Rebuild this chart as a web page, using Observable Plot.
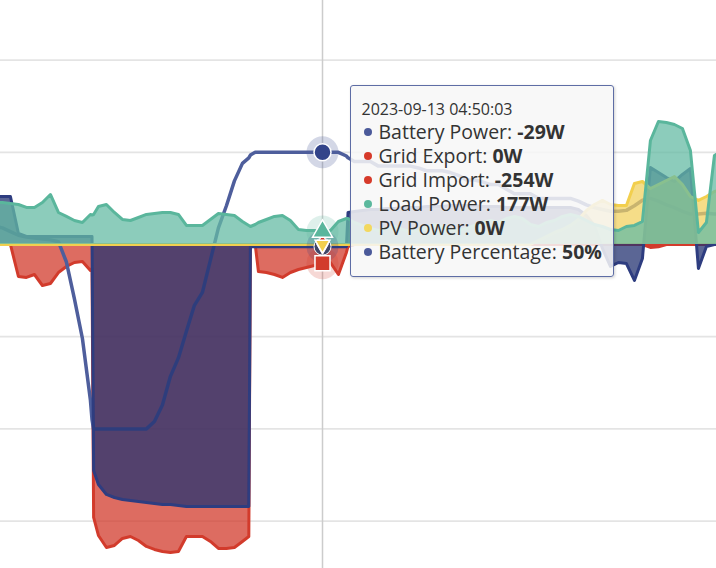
<!DOCTYPE html>
<html>
<head>
<meta charset="utf-8">
<script src="https://cdn.jsdelivr.net/npm/d3@7"></script>
<script src="https://cdn.jsdelivr.net/npm/@observablehq/plot@0.6"></script>
<style>
html, body { margin: 0; padding: 0; background: #fff; overflow: hidden; }
#wrap { position: relative; width: 716px; height: 568px; }
#wrap svg { display: block; }
#tip { position: absolute; left: 349.5px; top: 84.5px; width: 262px; height: 190px;
  background: rgba(247,247,247,0.86); border: 1.5px solid #5e6da5; border-radius: 3px;
  box-shadow: 1px 1px 3px rgba(0,0,0,0.18); font-family: "Open Sans", sans-serif; color: #333; }
#tip .ln { position: absolute; white-space: nowrap; line-height: 24px; }
#tip .dot { display: inline-block; width: 8px; height: 8px; border-radius: 50%; margin-right: 7px; vertical-align: 3px; }
#tip b { font-weight: 700; }
</style>
</head>
<body>
<div id="wrap"></div>
<script>
// ---- data (time of day, 2023-09-13) ----
const times = [
  "01:25","01:30","01:35","01:40","01:45","01:50","01:55","02:00","02:05","02:10","02:15","02:20","02:25",
  "02:26","02:27",
  "02:30","02:35","02:40","02:45","02:50","02:55","03:00","03:05","03:10","03:15","03:20","03:25","03:30","03:35","03:40","03:45","03:50","03:55","04:00",
  "04:04","04:05","04:08",
  "04:10","04:15","04:20","04:25","04:30","04:35","04:40","04:45",
  "04:50:03",
  "04:55","05:00","05:05","05:06",
  "05:10","05:15","05:20","05:25","05:30","05:35","05:40","05:45","05:50","05:55","06:00","06:05","06:10","06:15","06:20","06:25","06:30","06:35","06:40","06:45","06:50","06:55","07:00",
  "07:05","07:10","07:15","07:20","07:25","07:30","07:35","07:40","07:45","07:50","07:55","08:00","08:05","08:10",
  "08:15","08:20","08:25","08:30","08:35","08:40","08:45","08:50","08:55","09:00"
];

const batteryPower = [
  651, 651, 651, 149, 108, 108, 108, 108, 108, 108, 108, 108, 108,
  108, -3064,
  -3254, -3389, -3430, -3457, -3471, -3484, -3498, -3511, -3525, -3525, -3538, -3552, -3552, -3552, -3552, -3552, -3552, -3552, -3552,
  -3552, -30, -30,
  -30, -31, -29, -30, -31, -30, -29, -30,
  -29,
  -30, -31, -30, 434,
  447, 461, 475, 475, 488, 488, 502, 502, 502, 515, 515, 515, 529, 529, 529, 529, 515, 515, 515, 502, 502, 502, 502,
  502, 502, 502, 502, 502, 475, 393, 258, -54, -298, -244, -258, -488, -190,
  1044, 976, 908, 854, 949, 1030, -325, -27, 0, 0
];

const gridExport = [
  0, 0, 0, 0, 0, 0, 0, 0, 0, 0, 0, 0, 0,
  0, 0,
  0, 0, 0, 0, 0, 0, 0, 0, 0, 0, 0, 0, 0, 0, 0, 0, 0, 0, 0,
  0, 0, 0,
  0, 0, 0, 0, 0, 0, 0, 0,
  0,
  0, 0, 0, 0,
  0, 0, 0, 0, 0, 0, 0, 0, 0, 0, 0, 0, 0, 0, 0, 0, 0, 0, 0, 0, 0, 0, 0,
  0, 0, 0, 0, 0, 0, 0, 0, 0, 0, 0, 0, 0, 0,
  0, 0, 0, 0, 0, 0, 0, 0, 0, 0
];

const gridImport = [
  0, 0, 0, -434, -447, -407, -556, -529, -380, -298, -244, -230, -352,
  -325, -3701,
  -3945, -4108, -4081, -3986, -3959, -4013, -4094, -4135, -4162, -4176, -4162, -3959, -3959, -3959, -4026, -4121, -4121, -4108, -4026,
  -3959, 0, 0,
  -366, -380, -407, -447, -380, -339, -312, -285,
  -254,
  -244, -407, -108, -27,
  0, 0, 0, 0, 0, 0, 0, 0, 0, 0, 0, 0, 0, 0, 0, 0, 0, 0, 0, 0, 0, 0, 0,
  0, 0, 0, 0, 0, 0, 0, 0, 0, 0, 0, 0, 0, 0,
  -40, -30, 0, 0, 0, 0, 0, 0, 0, 0
];

const loadPower = [
  569, 569, 556, 542, 502, 502, 569, 678, 434, 380, 325, 298, 407,
  400, 407,
  515, 542, 434, 339, 325, 366, 407, 420, 434, 434, 407, 258, 258, 258, 339, 420, 407, 393, 312,
  258, 244, 271,
  298, 339, 380, 393, 325, 203, 190, 190,
  177,
  190, 312, 352, 352,
  298, 258, 217, 190, 217, 244, 203, 176, 190, 230, 271, 244, 203, 190, 217, 258, 298, 325, 298, 352, 380, 352, 271,
  244, 298, 325, 380, 407, 380, 325, 271, 244, 203, 190, 244, 258, 312,
  1410, 1667, 1654, 1627, 1573, 1274, 163, 298, 1207, 1274
];

const pvPower = [
  0, 0, 0, 0, 0, 0, 0, 0, 0, 0, 0, 0, 0,
  0, 0,
  0, 0, 0, 0, 0, 0, 0, 0, 0, 0, 0, 0, 0, 0, 0, 0, 0, 0, 0,
  0, 0, 0,
  0, 0, 0, 0, 0, 0, 0, 0,
  0,
  0, 0, 0, 0,
  0, 0, 0, 0, 0, 0, 0, 0, 0, 0, 0, 0, 0, 0, 0, 0, 0, 0, 0, 0, 0, 0, 0,
  54, 108, 163, 203, 258, 339, 461, 542, 597, 542, 529, 529, 827, 854,
  759, 813, 868, 922, 813, 651, 597, 651, 719, 746
];

const batteryPct = [
  42.0, 41.8, 41.4, 41.0, 40.8, 40.7, 40.6, 40.5, 40.3, 38.1, 34.1, 29.8, 23.1,
  21.0, 20.0,
  20, 20, 20, 20, 20, 20, 20, 20.8, 22.6, 25.7, 27.7, 30.6, 33.4, 34.8, 38.3, 41.8, 44.2, 46.9, 48.8,
  49.4, 49.7, 50,
  50, 50, 50, 50, 50, 50, 50, 50,
  50,
  50, 50, 49.6, 49.4,
  49, 49, 49, 48.5, 48.5, 48.5, 48.5, 48.5, 48.3, 48, 48, 48, 47.8, 47.5, 47, 47, 46.8, 46.5, 46.5, 46, 45.5, 45.5, 45.5,
  45, 45, 45, 45, 45, 44.7, 44.3, 44, 43.8, 43.6, 43.6, 43.7, 44.2, 44.8,
  45, 44.7, 44.3, 44, 43.6, 43.3, 43.3, 43.4, 43.3, 43.3
];

const gridTicks = [-3750, -2500, -1250, 0, 1250, 2500];   // power axis (W)
const pctAxisAtZero = 40, pctPerTick = 10, wattsPerTick = 1250; // right (%) axis aligned to power ticks
const hoverTime = "04:50:03";
const seriesInfo = [
  {key: "batteryPower", label: "Battery Power", unit: "W", color: "#4b5a9a"},
  {key: "gridExport", label: "Grid Export", unit: "W", color: "#d63a2a"},
  {key: "gridImport", label: "Grid Import", unit: "W", color: "#d63a2a"},
  {key: "load", label: "Load Power", unit: "W", color: "#5bb89d"},
  {key: "pv", label: "PV Power", unit: "W", color: "#f3d85f"},
  {key: "pct", label: "Battery Percentage", unit: "%", color: "#4b5a9a"}
];

// ---- build ----
const parseT = s => { const [h, m, sec] = s.split(":").map(Number); return new Date(Date.UTC(2023, 8, 13, h, m, sec || 0)); };
const rows = times.map((s, i) => ({
  t: parseT(s), batteryPower: batteryPower[i], gridExport: gridExport[i], gridImport: gridImport[i],
  load: loadPower[i], pv: pvPower[i], pct: batteryPct[i]
}));
const pctToW = p => (p - pctAxisAtZero) / pctPerTick * wattsPerTick;
const hover = rows[times.indexOf(hoverTime)];

const RED = "#d23b2c", BLUE = "#243372", BLUE_LINE = "#2e3d80", PCT = "#4e5e9c",
      TEAL = "#66bba4", TEAL_LINE = "#5ab69c", YELLOW = "#f2d160", YELLOW_LINE = "#f2cf4e";
const LW = 3;

const sqrt3 = Math.sqrt(3);
const triangleDown = {
  draw(ctx, size) {
    const y = -Math.sqrt(size / (sqrt3 * 3));
    ctx.moveTo(0, -y * 2);
    ctx.lineTo(-sqrt3 * y, y);
    ctx.lineTo(sqrt3 * y, y);
    ctx.closePath();
  }
};

const chart = Plot.plot({
  width: 716,
  height: 568,
  margin: 0,
  x: {type: "utc", domain: [new Date(Date.UTC(2023, 8, 13, 1, 28, 48)), new Date(Date.UTC(2023, 8, 13, 8, 56, 18))], axis: null},
  y: {domain: [-4393, 3308], axis: null},
  marks: [
    Plot.ruleY(gridTicks, {stroke: "#e4e4e4", strokeWidth: 1.8}),
    Plot.ruleX([hover.t], {stroke: "#cccccc", strokeWidth: 1.5}),
    Plot.areaY(rows, {x: "t", y: "gridExport", fill: RED, fillOpacity: 0.75, clip: true}),
    Plot.areaY(rows, {x: "t", y: "gridImport", fill: RED, fillOpacity: 0.75, clip: true}),
    Plot.lineY(rows, {x: "t", y: "gridExport", stroke: RED, strokeWidth: LW, clip: true}),
    Plot.lineY(rows, {x: "t", y: "gridImport", stroke: RED, strokeWidth: LW, clip: true}),
    Plot.lineY(rows, {x: "t", y: d => pctToW(d.pct), stroke: PCT, strokeWidth: 3.5, clip: true}),
    Plot.areaY(rows, {x: "t", y: "batteryPower", fill: BLUE, fillOpacity: 0.75, clip: true}),
    Plot.lineY(rows, {x: "t", y: "batteryPower", stroke: BLUE_LINE, strokeWidth: LW, clip: true}),
    Plot.areaY(rows, {x: "t", y: "pv", fill: YELLOW, fillOpacity: 0.75, clip: true}),
    Plot.lineY(rows, {x: "t", y: "pv", stroke: YELLOW_LINE, strokeWidth: LW, clip: true}),
    Plot.areaY(rows, {x: "t", y: "load", fill: TEAL, fillOpacity: 0.75, clip: true}),
    Plot.lineY(rows, {x: "t", y: "load", stroke: TEAL_LINE, strokeWidth: LW, clip: true}),
    // hover halos
    Plot.dot([hover], {x: "t", y: "batteryPower", r: 16, fill: BLUE_LINE, fillOpacity: 0.2}),
    Plot.dot([hover], {x: "t", y: "gridImport", r: 16, fill: RED, fillOpacity: 0.2}),
    Plot.dot([hover], {x: "t", y: "load", r: 16, fill: TEAL_LINE, fillOpacity: 0.2}),
    Plot.dot([hover], {x: "t", y: d => pctToW(d.pct), r: 16, fill: PCT, fillOpacity: 0.25}),
    // hover markers
    Plot.dot([hover], {x: "t", y: "batteryPower", r: 8.5, fill: "#3f4668", stroke: "white", strokeWidth: 1}),
    Plot.dot([hover], {x: "t", y: "gridExport", symbol: "diamond", r: 6, fill: RED, stroke: "white", strokeWidth: 1}),
    Plot.dot([hover], {x: "t", y: "pv", symbol: triangleDown, r: 5.5, fill: YELLOW_LINE, stroke: "white", strokeWidth: 1.5}),
    Plot.dot([hover], {x: "t", y: "gridImport", symbol: "square", r: 8.5, fill: RED, stroke: "white", strokeWidth: 1.5}),
    Plot.dot([hover], {x: "t", y: "load", symbol: "triangle", r: 7.4, fill: TEAL_LINE, stroke: "white", strokeWidth: 1.5}),
    Plot.dot([hover], {x: "t", y: d => pctToW(d.pct), r: 8.5, fill: "#33448a", stroke: "white", strokeWidth: 1.5})
  ]
});

const wrap = document.getElementById("wrap");
wrap.appendChild(chart);

// tooltip
const tip = document.createElement("div");
tip.id = "tip";
const dateLine = document.createElement("div");
dateLine.className = "ln";
dateLine.style.cssText = "top:11.8px;left:11px;font-size:16px;";
dateLine.textContent = "2023-09-13 " + hoverTime;
tip.appendChild(dateLine);
seriesInfo.forEach((s, i) => {
  const ln = document.createElement("div");
  ln.className = "ln";
  ln.style.cssText = `top:${34.5 + 24 * i}px;left:13px;font-size:19.5px;`;
  const dot = document.createElement("span");
  dot.className = "dot";
  dot.style.background = s.color;
  ln.appendChild(dot);
  ln.appendChild(document.createTextNode(s.label + ": "));
  const b = document.createElement("b");
  b.textContent = hover[s.key] + s.unit;
  ln.appendChild(b);
  tip.appendChild(ln);
});
wrap.appendChild(tip);
</script>
</body>
</html>
